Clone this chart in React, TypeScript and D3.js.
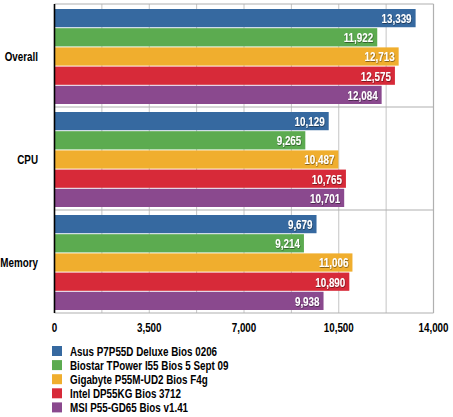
import React from "react";
import * as d3 from "d3";

const categories = ["Overall", "CPU", "Memory"];
const seriesNames = [
  "Asus P7P55D Deluxe Bios 0206",
  "Biostar TPower I55 Bios 5 Sept 09",
  "Gigabyte P55M-UD2 Bios F4g",
  "Intel DP55KG Bios 3712",
  "MSI P55-GD65 Bios v1.41",
];
const seriesColors = ["#3669a0", "#5cab50", "#f0ae2e", "#d72a39", "#8a498e"];
const asusValues = [13339, 10129, 9679];
const biostarValues = [11922, 9265, 9214];
const gigabyteValues = [12713, 10487, 11006];
const intelValues = [12575, 10765, 10890];
const msiValues = [12084, 10701, 9938];
const allValues = [asusValues, biostarValues, gigabyteValues, intelValues, msiValues];
const tickValues = [0, 3500, 7000, 10500, 14000];
const gridValues = [0, 1750, 3500, 5250, 7000, 8750, 10500, 12250, 14000];

const W = 453;
const H = 417;
const left = 54.5;
const right = 433.5;
const top = 4;
const bottom = 313;
const FONT = "'Liberation Sans', Arial, sans-serif";
const NARROW = 0.82;

function NText(props: {
  x: number;
  y: number;
  anchor?: "start" | "middle" | "end";
  fill?: string;
  size?: number;
  filter?: string;
  children: React.ReactNode;
}) {
  const { x, y, anchor = "start", fill = "#000", size = 12, filter } = props;
  return (
    <g transform={`translate(${x},${y}) scale(${NARROW},1)`}>
      <text
        x={0}
        y={0}
        textAnchor={anchor}
        dominantBaseline="central"
        fontWeight="bold"
        fontSize={size}
        fill={fill}
        filter={filter}
      >
        {props.children}
      </text>
    </g>
  );
}

export default function App() {
  const x = d3.scaleLinear().domain([0, 14000]).range([left, right]);
  const y0 = d3.scaleBand<string>().domain(categories).range([top, bottom]).padding(0);
  const gh = y0.bandwidth();
  const y1 = d3
    .scaleBand<string>()
    .domain(seriesNames)
    .range([5, gh - 3])
    .paddingInner(0.05)
    .paddingOuter(0);
  const fmt = d3.format(",");

  return (
    <svg
      width={W}
      height={H}
      style={{ position: "absolute", left: 0, top: 0, display: "block", background: "#fff" }}
      fontFamily={FONT}
    >
      <defs>
        <filter id="ts" x="-20%" y="-40%" width="140%" height="180%">
          <feDropShadow dx="0.6" dy="0.8" stdDeviation="0.6" floodColor="#000" floodOpacity="0.55" />
        </filter>
      </defs>
      {gridValues.map((g) => (
        <line key={"g" + g} x1={x(g)} x2={x(g)} y1={top} y2={bottom} stroke="#c4c4c4" strokeWidth={1} />
      ))}
      {[top, ...categories.map((c) => (y0(c) as number) + gh)].map((yy, i) => (
        <line key={"h" + i} x1={left} x2={right} y1={yy} y2={yy} stroke="#b0b0b0" strokeWidth={1.2} />
      ))}
      <line x1={right} x2={right} y1={top} y2={bottom} stroke="#b0b0b0" strokeWidth={1.2} />
      {categories.map((c, ci) => (
        <g key={c} transform={`translate(0,${y0(c)})`}>
          {seriesNames.map((s, si) => {
            const v = allValues[si][ci];
            const by = y1(s) as number;
            const bh = y1.bandwidth();
            return (
              <g key={s}>
                <rect x={x(0)} y={by} width={x(v) - x(0)} height={bh} fill={seriesColors[si]} />
                <NText x={x(v) - 4} y={by + bh / 2 + 0.5} anchor="end" fill="#fff" filter="url(#ts)">
                  {fmt(v)}
                </NText>
              </g>
            );
          })}
          <NText x={38} y={gh / 2 + 1.5} anchor="end">
            {c}
          </NText>
        </g>
      ))}
      <line x1={left} x2={left} y1={top} y2={bottom} stroke="#000" strokeWidth={1.6} />
      {tickValues.map((t) => (
        <NText key={"t" + t} x={x(t)} y={328} anchor="middle">
          {fmt(t)}
        </NText>
      ))}
      {seriesNames.map((s, i) => (
        <g key={"l" + s} transform={`translate(52,${346 + i * 14.1})`}>
          <rect x={0} y={0} width={10} height={10} fill={seriesColors[i]} />
          <NText x={18} y={5.5}>
            {s}
          </NText>
        </g>
      ))}
    </svg>
  );
}
